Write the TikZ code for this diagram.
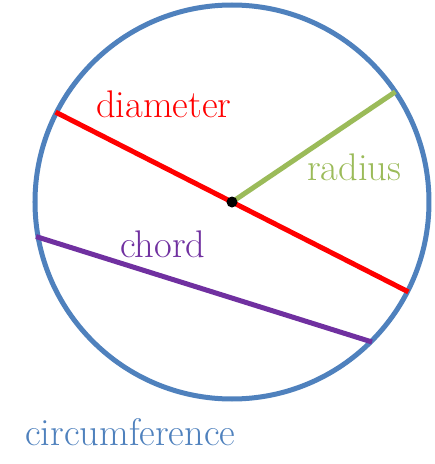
\documentclass[tikz,border=0pt]{standalone}
\usepackage{fontspec}
\definecolor{circblue}{HTML}{4F81BD}
\definecolor{diamred}{HTML}{FF0000}
\definecolor{radgreen}{HTML}{9BBB59}
\definecolor{chordpurple}{HTML}{7030A0}
\begin{document}
\begin{tikzpicture}[x=1pt, y=1pt]
            \useasboundingbox (-232,-262) rectangle (203,202);
            \coordinate(O) at (0,0);
            \coordinate(D1) at (153:198);
            \coordinate(D2) at (-27:198);
            \coordinate(R) at (34:197);
            \coordinate(C1) at (190:199);
            \coordinate(C2) at (-45:198);

            \draw[circblue, line width=5pt] (O) circle (197);

            \begin{scope}[line width=5pt]
                \draw[diamred] (D1) -- (D2);
                \draw[radgreen] (O) -- (R);
                \draw[chordpurple] (C1) -- (C2);
            \end{scope}
            \fill (O) circle (5.5);

            \begin{scope}[every node/.style = {anchor=base west, inner sep=0pt, font=\fontsize{38.5}{42}\selectfont}]
                \node[diamred](ldiam) at (-136,85) {diameter};
                \node[radgreen](lrad) at (75,22) {radius};
                \node[chordpurple](lchord) at (-112,-55) {chord};
                \node[circblue](lcirc) at (-207,-243) {circumference};
            \end{scope}
        \end{tikzpicture}
\end{document}
